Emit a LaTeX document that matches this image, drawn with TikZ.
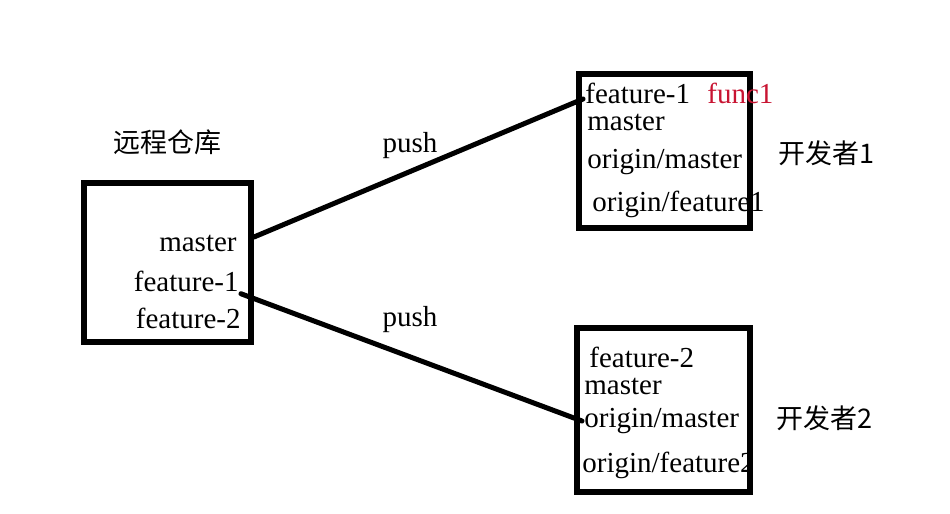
\documentclass[tikz,border=0pt]{standalone}
\usepackage{fontspec}
\setmainfont{Liberation Serif}
\newfontfamily\cjk{Noto Sans CJK SC}
\usetikzlibrary{positioning}
\definecolor{funcred}{RGB}{200,20,50}
\tikzstyle{box}=[draw=black, line width=3pt, inner sep=0pt]
\tikzstyle{lbl}=[font=\fontsize{14.5}{16}\selectfont, inner sep=1pt]
\tikzstyle{cjklbl}=[font=\cjk\fontsize{13.5}{16}\selectfont, inner sep=1pt]
\tikzstyle{link}=[line width=2.5pt, line cap=round]

\begin{document}
\begin{tikzpicture}[x=0.5pt, y=-0.5pt]
        \useasboundingbox (0,0) rectangle (950,514);

        % remote repository
        \node[box, minimum width=83.5pt, minimum height=79.5pt] (r) at (167.5,262.5) {};
        \node[cjklbl] (rt) at (167,142) {远程仓库};
        \node[lbl, anchor=east] (rm) at (239,243) {master};
        \node[lbl, anchor=east] (rf1) at (241,281) {feature-1};
        \node[lbl, anchor=east] (rf2) at (243,318) {feature-2};

        % developer 1
        \node[box, minimum width=85.5pt, minimum height=77pt] (d1) at (664.5,151) {};
        \node[lbl, anchor=west] (f1) at (583,93) {feature-1};
        \node[lbl, anchor=west, text=funcred] (fn1) at (705,93) {func1};
        \node[lbl, anchor=west] (m1) at (585,122) {master};
        \node[lbl, anchor=west] (om1) at (585,162) {origin/master};
        \node[lbl, anchor=west] (of1) at (590,204) {origin/feature1};
        \node[cjklbl, anchor=west] (dev1) at (776,153) {开发者1};

        % developer 2
        \node[box, minimum width=86.5pt, minimum height=82pt] (d2) at (663.5,410) {};
        \node[lbl, anchor=west, inner sep=0pt] (f2) at (589,357) {feature-2};
        \node[lbl, anchor=west, inner sep=0pt] (m2) at (584,386) {master};
        \node[lbl, anchor=west] (om2) at (582,421) {origin/master};
        \node[lbl, anchor=west] (of2) at (580,465) {origin/feature2};
        \node[cjklbl, anchor=west] (dev2) at (774,418) {开发者2};

        \draw[link] ([yshift=3pt]r.east |- rm) -- ([yshift=-3pt]f1.west);
        \node[lbl] (p1) at (410,146) {push};
        \draw[link] (rf1.south east) -- (om2.west);
        \node[lbl] (p2) at (410,320) {push};

    \end{tikzpicture}
\end{document}
